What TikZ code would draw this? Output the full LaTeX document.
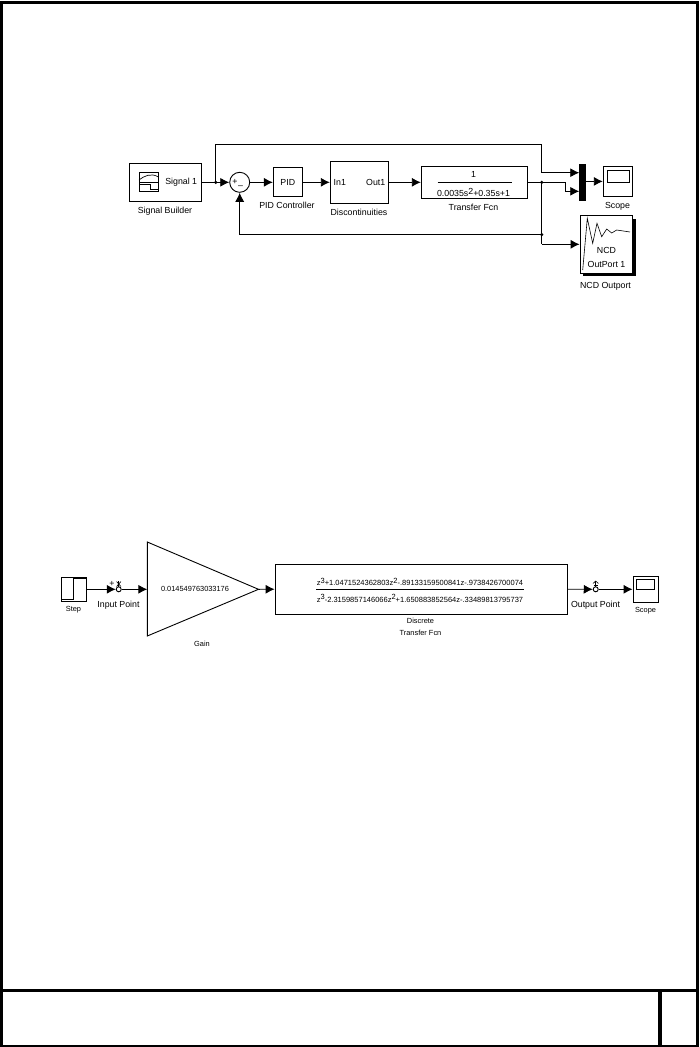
\documentclass[tikz,border=0pt]{standalone}
\usepackage{fontspec}
\setmainfont{Liberation Sans}
\usetikzlibrary{arrows.meta}

\newcommand{\upnum}[1]{\raisebox{2.6pt}{#1}}

\tikzset{
    block/.style={draw, line width=0.9pt, rectangle, inner sep=0pt, fill=white},
    label/.style={inner sep=0pt, font=\fontsize{8.8}{10}\selectfont, align=center},
    small/.style={inner sep=0pt, font=\fontsize{7.4}{9}\selectfont, align=center},
    wire/.style={line width=0.9pt},
    arrow/.style={wire, -{Latex[length=9pt,width=9pt]}},
    joint/.style={circle, fill=black, inner sep=0pt, minimum size=3.5pt},
    frameline/.style={line width=3pt}
}

\begin{document}
\begin{tikzpicture}[x=1pt, y=-1pt]
    \useasboundingbox (0, 0) rectangle (699, 1047);

    % sheet
    \draw[frameline] (1.5, 2) rectangle (697.5, 1046);
    \draw[frameline] (1.5, 990.5) -- (697.5, 990.5);
    \draw[frameline, line width=3.5pt] (660, 990.5) -- (660, 1046);

    % upper model
    \node[block, minimum width=72.5pt, minimum height=38pt] at (165.5, 182.3) (builder) {};
    \node[label, anchor=east] at (197.3, 182.3) (signal) {Signal 1};
    \node[label] at (165, 211) (builderlabel) {Signal Builder};
    \node[block, circle, minimum size=20pt] at (239.7, 182.3) (sum) {};
    \node[label] at (235, 182.3) (plus) {+};
    \node[label] at (240.5, 187) (minus) {--};
    \node[block, minimum width=29pt, minimum height=29pt, label] at (287.8, 182.3) (pid) {PID};
    \node[label] at (287, 205.5) (pidlabel) {PID Controller};
    \node[block, minimum width=58.5pt, minimum height=42pt] at (359.5, 182.3) (disc) {};
    \node[label, anchor=west] at (333.5, 182.3) (inone) {In1};
    \node[label, anchor=east] at (385.5, 182.3) (outone) {Out1};
    \node[label] at (359, 212.5) (disclabel) {Discontinuities};
    \node[block, minimum width=106.5pt, minimum height=32.7pt] at (474.5, 182.3) (fcn) {};
    \node[label] at (473.5, 174) (fcnnum) {1};
    \node[label] at (473.5, 192.5) (fcnden) {0.0035s\upnum{2}+0.35s+1};
    \node[label] at (473.5, 207.5) (fcnlabel) {Transfer Fcn};
    \node[draw, fill=black, inner sep=0pt, minimum width=5.5pt, minimum height=36.7pt] at (582.2, 182.3) (mux) {};
    \node[block, minimum width=29.5pt, minimum height=29.5pt] at (618, 181.4) (scope) {};
    \node[label] at (617.5, 206.5) (scopelabel) {Scope};
    \node[fill=black, minimum width=52.7pt, minimum height=57.6pt, inner sep=0pt] at (609.4, 247.5) (ncdshadow) {};
    \node[block, minimum width=52.7pt, minimum height=57.6pt] at (606.4, 244.5) (ncd) {};
    \node[label] at (606.5, 250.5) (ncdone) {NCD};
    \node[label] at (606.5, 264) (ncdtwo) {OutPort 1};
    \node[label] at (605.5, 286) (ncdlabel) {NCD Outport};

    % icons
    \draw[line width=0.8pt] (139, 172.3) rectangle (158.5, 191.7);
    \draw[line width=0.8pt] (139, 182.3) -- (158.5, 182.3);
    \draw[line width=0.7pt] (139, 180) .. controls (144, 176) and (151, 172.5) .. (158.5, 177);
    \draw[line width=0.7pt] (139, 184.3) -- (150, 184.3) -- (150, 189.3) -- (158.5, 189.3);
    \draw[line width=0.7pt] (607.3, 170.3) rectangle (629, 182.3);
    \draw[line width=0.6pt] (582.7, 270) -- (587.3, 218.3) -- (592.7, 243.3) -- (597, 223.3) -- (601.7, 236.7) -- (606.7, 229) -- (611.7, 233) -- (616.7, 230) -- (630, 232);
    \coordinate (fcnleft) at (437.7, 182.3);
    \coordinate (fcnright) at (511.7, 182.3);
    \draw[line width=0.7pt] (fcnleft) -- (fcnright);

    \coordinate (tapin) at (215.7, 182.3);
    \coordinate (tapout) at (541.7, 182.3);
    \coordinate (tapback) at (541.7, 234.7);
    \coordinate (topleft) at (215.7, 144);
    \coordinate (topright) at (541.7, 144);
    \coordinate (muxone) at (541.7, 172.7);
    \coordinate (bendone) at (565, 182.3);
    \coordinate (bendtwo) at (565, 191.3);
    \coordinate (ncdin) at (541.7, 244.3);
    \coordinate (backup) at (239.7, 234.7);

    \draw[arrow] (builder.east) -- (sum.west);
    \draw[arrow] (sum.east) -- (pid.west);
    \draw[arrow] (pid.east) -- (disc.west);
    \draw[arrow] (disc.east) -- (fcn.west);
    \draw[wire] (fcn.east) -- (bendone);
    \draw[arrow] (bendone) -- (bendtwo) -- (mux.west |- bendtwo);
    \draw[arrow] (tapin) -- (topleft) -- (topright) -- (muxone) -- (mux.west |- muxone);
    \draw[wire] (tapout) -- (ncdin);
    \draw[arrow] (ncdin) -- (ncd.west |- ncdin);
    \draw[arrow] (tapback) -- (backup) -- (sum.south);
    \draw[arrow] (mux.east |- scope.west) -- (scope.west);
    \node[joint] at (tapin) (jointin) {};
    \node[joint] at (tapout) (jointout) {};
    \node[joint] at (tapback) (jointback) {};

    % lower model
    \node[block, minimum width=24.7pt, minimum height=24.6pt] at (73.6, 589.3) (step) {};
    \node[small] at (73.5, 609.5) (steplabel) {Step};
    \node[block, circle, minimum size=5pt] at (118.7, 589.3) (input) {};
    \node[label] at (118.5, 605.5) (inputlabel) {Input Point};
    \node[inner sep=0pt, minimum size=0pt] at (147.3, 589.3) (gainin) {};
    \coordinate (gaintop) at (147.3, 542);
    \coordinate (gainbot) at (147.3, 636);
    \coordinate (gaintip) at (258.5, 589.3);
    \draw[wire] (gaintop) -- (gaintip) -- (gainbot) -- cycle;
    \node[small] at (195, 589) (gainvalue) {0.014549763033176};
    \node[small] at (202, 644) (gainlabel) {Gain};
    \node[block, minimum width=292.7pt, minimum height=50.3pt] at (421.4, 589.2) (dtf) {};
    \node[small, font=\fontsize{7.5}{9}\selectfont] at (420, 582) (dtfnum) {z\upnum{3}+1.0471524362803z\upnum{2}-.89133159500841z-.9738426700074};
    \node[small, font=\fontsize{7.5}{9}\selectfont] at (420, 598.5) (dtfden) {z\upnum{3}-2.3159857146066z\upnum{2}+1.650883852564z-.33489813795737};
    \coordinate (ruleleft) at (316, 589.3);
    \coordinate (ruleright) at (524, 589.3);
    \draw[line width=0.7pt] (ruleleft) -- (ruleright);
    \node[small] at (420.5, 621) (dtfone) {Discrete};
    \node[small] at (420.5, 633) (dtftwo) {Transfer Fcn};
    \node[block, circle, minimum size=5pt] at (595.7, 589.3) (output) {};
    \node[label] at (595.5, 605.5) (outputlabel) {Output Point};
    \node[block, minimum width=25pt, minimum height=26.7pt] at (645.5, 589.3) (scopetwo) {};
    \node[small] at (645.5, 610.5) (scopetwolabel) {Scope};
    \draw[line width=0.6pt] (636.5, 579.5) rectangle (654.5, 589.5);

    % icons
    \draw[line width=1.1pt] (61.3, 599.3) -- (73.4, 599.3) -- (73.4, 578.3) -- (86, 578.3);
    \node[label] at (112, 584.3) (inputplus) {+};
    \draw[line width=0.6pt] (116.5, 581.5) -- (121, 586.5);
    \draw[line width=0.6pt] (116.5, 586.5) -- (121, 581.5);
    \draw[line width=0.6pt] (118.7, 586.7) -- (118.7, 581);
    \draw[line width=0.6pt] (595.7, 586.7) -- (595.7, 581);
    \draw[line width=0.6pt] (593, 583.5) -- (595.7, 581) -- (598.4, 583.5);
    \draw[line width=0.6pt] (593.5, 585.5) -- (598, 585.5);

    \draw[arrow] (step.east) -- (input.west);
    \draw[arrow] (input.east) -- (gainin.center);
    \draw[arrow] (gaintip) -- (dtf.west);
    \draw[arrow] (dtf.east) -- (output.west);
    \draw[arrow] (output.east) -- (scopetwo.west);
\end{tikzpicture}
\end{document}
